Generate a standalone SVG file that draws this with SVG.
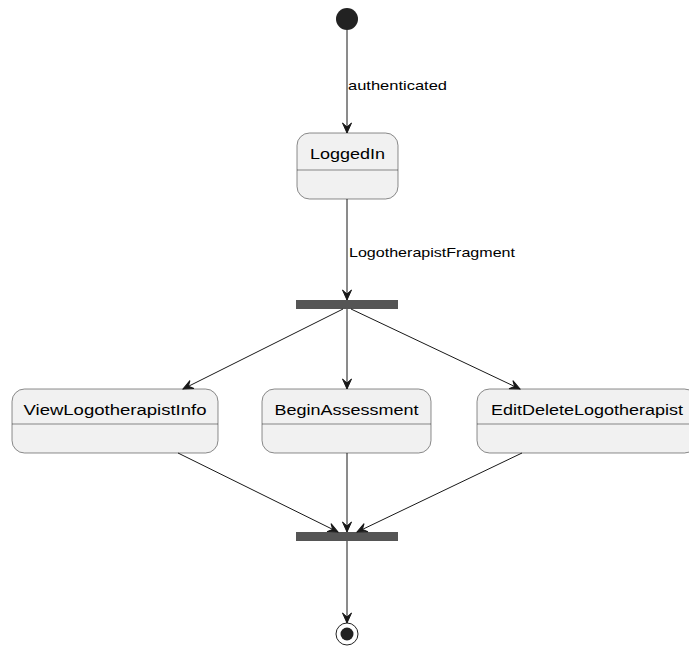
<svg xmlns="http://www.w3.org/2000/svg" width="689" height="648" viewBox="0 0 689 648">
<style>
.st{fill:#F1F1F1;stroke:#181818;stroke-width:0.5}
.dv{stroke:#181818;stroke-width:0.5}
.nm{font-family:"Liberation Sans",Arial,sans-serif;font-size:14px;fill:#000}
.lb{font-family:"Liberation Sans",Arial,sans-serif;font-size:13px;fill:#000}
.ln{stroke:#181818;stroke-width:1;fill:none}
.ah{fill:#181818;stroke:#181818;stroke-width:1}
.bar{fill:#555555}
</style>
<defs>
<marker id="arr" markerWidth="12" markerHeight="12" viewBox="-11 -6 12 12" refX="0" refY="0" orient="auto" markerUnits="userSpaceOnUse">
<path d="M-10,-4.5 L0,0 L-10,4.5 L-6,0 Z" class="ah"/>
</marker>
</defs>
<g id="start"><circle cx="347" cy="19" r="11" fill="#222222"/></g>
<g id="LoggedIn">
<rect class="st" x="297" y="133" width="101" height="66" rx="12.5"/>
<line class="dv" x1="297" y1="170" x2="398" y2="170"/>
<text class="nm" x="347.5" y="159" text-anchor="middle" textLength="75" lengthAdjust="spacingAndGlyphs">LoggedIn</text>
</g>
<g id="fork1"><rect class="bar" x="296" y="300" width="102" height="9"/></g>
<g id="ViewLogotherapistInfo">
<rect class="st" x="12" y="389" width="206" height="64" rx="12.5"/>
<line class="dv" x1="12" y1="424" x2="218" y2="424"/>
<text class="nm" x="115" y="415" text-anchor="middle" textLength="183" lengthAdjust="spacingAndGlyphs">ViewLogotherapistInfo</text>
</g>
<g id="BeginAssessment">
<rect class="st" x="262" y="389" width="169" height="64" rx="12.5"/>
<line class="dv" x1="262" y1="424" x2="431" y2="424"/>
<text class="nm" x="346.5" y="415" text-anchor="middle" textLength="144" lengthAdjust="spacingAndGlyphs">BeginAssessment</text>
</g>
<g id="EditDeleteLogotherapist">
<rect class="st" x="477" y="389" width="220" height="64" rx="12.5"/>
<line class="dv" x1="477" y1="424" x2="697" y2="424"/>
<text class="nm" x="491" y="415" textLength="192" lengthAdjust="spacingAndGlyphs">EditDeleteLogotherapist</text>
</g>
<g id="join1"><rect class="bar" x="296" y="532" width="102" height="9"/></g>
<g id="end">
<circle cx="347" cy="634" r="11" fill="none" stroke="#222222" stroke-width="1"/>
<circle cx="347" cy="634" r="6.5" fill="#222222"/>
</g>
<g id="connectors">
<line class="ln" x1="347" y1="30" x2="347" y2="133" marker-end="url(#arr)"/>
<text class="lb" x="348" y="90" textLength="99" lengthAdjust="spacingAndGlyphs">authenticated</text>
<line class="ln" x1="347" y1="199" x2="347" y2="300" marker-end="url(#arr)"/>
<text class="lb" x="349" y="257" textLength="166" lengthAdjust="spacingAndGlyphs">LogotherapistFragment</text>
<line class="ln" x1="343" y1="309" x2="183" y2="389" marker-end="url(#arr)"/>
<line class="ln" x1="347" y1="309" x2="347" y2="389" marker-end="url(#arr)"/>
<line class="ln" x1="351" y1="309" x2="520" y2="389" marker-end="url(#arr)"/>
<line class="ln" x1="178" y1="453" x2="338" y2="532" marker-end="url(#arr)"/>
<line class="ln" x1="347" y1="453" x2="347" y2="532" marker-end="url(#arr)"/>
<line class="ln" x1="522" y1="453" x2="357" y2="532" marker-end="url(#arr)"/>
<line class="ln" x1="347" y1="541" x2="347" y2="623" marker-end="url(#arr)"/>
</g>
</svg>
